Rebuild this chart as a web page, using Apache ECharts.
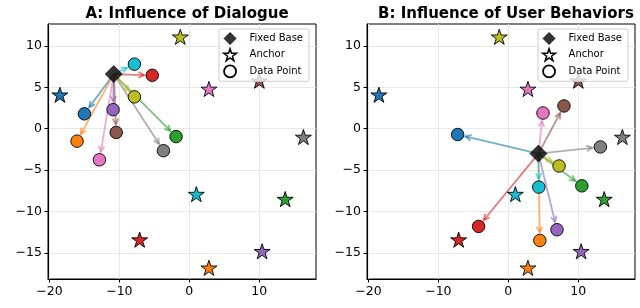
<!DOCTYPE html>
<html>
<head>
<meta charset="utf-8">
<script src="https://cdn.jsdelivr.net/npm/echarts@6/dist/echarts.min.js"></script>
<style>
  html, body { margin: 0; padding: 0; background: #fff; }
  #chart { width: 640px; height: 308px; }
</style>
</head>
<body>
<div id="chart"></div>
<script>
// tab10 colours, one per anchor / data point
var colors = ['#1f77b4', '#ff7f0e', '#2ca02c', '#d62728', '#9467bd',
              '#8c564b', '#e377c2', '#7f7f7f', '#bcbd22', '#17becf'];

// anchors (same in both panels)
var anchorX = [-18.5, 2.8, 13.7, -7.1, 10.4, 10.0, 2.8, 16.3, -1.3, 1.0];
var anchorY = [4.1, -16.8, -8.5, -13.4, -14.8, 5.8, 4.8, -1.0, 11.1, -7.9];

// panel A: dialogue
var baseA = [-10.8, 6.6];
var pointAX = [-15.0, -16.05, -1.9, -5.3, -10.9, -10.45, -12.85, -3.7, -7.85, -7.85];
var pointAY = [1.8, -1.5, -0.95, 6.45, 2.3, -0.45, -3.75, -2.65, 3.85, 7.8];

// panel B: user behaviors
var baseB = [4.3, -3.0];
var pointBX = [-7.25, 4.5, 10.5, -4.25, 6.95, 7.95, 4.95, 13.15, 7.25, 4.35];
var pointBY = [-0.7, -13.5, -6.9, -11.8, -12.2, 2.75, 1.9, -2.2, -4.5, -7.05];

var xTicks = [-20, -10, 0, 10];
var yTicks = [-15, -10, -5, 0, 5, 10];

var starPath = 'path://M50 0L61.2 34.5L97.6 34.5L68.2 55.9L79.4 90.5L50 69.1L20.6 90.5L31.8 55.9L2.4 34.5L38.8 34.5Z';
var diamondPath = 'path://M50 0L100 50L50 100L0 50Z';
var font = 'DejaVu Sans';

function fmt(v) {
    return String(v).replace('-', '\u2212');
}

// arrow from base to data point, stopped short of the marker, "->" head
function renderArrow(params, api) {
    var p0 = api.coord([api.value(0), api.value(1)]);
    var p1 = api.coord([api.value(2), api.value(3)]);
    var color = colors[api.value(4)];
    var dx = p1[0] - p0[0], dy = p1[1] - p0[1];
    var len = Math.sqrt(dx * dx + dy * dy);
    var ux = dx / len, uy = dy / len;
    var tip = [p1[0] - ux * 8, p1[1] - uy * 8];
    var head = 6.5, ang = 0.45;
    var bx = -ux, by = -uy;
    var c = Math.cos(ang), s = Math.sin(ang);
    var h1 = [tip[0] + head * (bx * c - by * s), tip[1] + head * (bx * s + by * c)];
    var h2 = [tip[0] + head * (bx * c + by * s), tip[1] + head * (-bx * s + by * c)];
    var st = { stroke: color, lineWidth: 1.8, fill: null, opacity: 0.62 };
    return {
        type: 'group',
        children: [
            { type: 'polyline', shape: { points: [p0, tip] }, style: st },
            { type: 'polyline', shape: { points: [h1, tip, h2] }, style: st }
        ]
    };
}

function makeAxes(idx) {
    var x = {
        type: 'value', gridIndex: idx, min: -20.2, max: 18.1,
        axisLine: { show: true, onZero: false, lineStyle: { color: '#000', width: 1 } },
        axisTick: { show: true, length: 3.5, customValues: xTicks, lineStyle: { color: '#000' } },
        axisLabel: { customValues: xTicks, formatter: fmt, color: '#000', fontSize: 12.5, fontFamily: font, margin: 6 },
        splitLine: { show: true, lineStyle: { color: '#e8e8e8', width: 1 } }
    };
    var y = {
        type: 'value', gridIndex: idx, min: -18.15, max: 12.65,
        axisLine: { show: true, onZero: false, lineStyle: { color: '#000', width: 1 } },
        axisTick: { show: true, length: 3.5, customValues: yTicks, lineStyle: { color: '#000' } },
        axisLabel: { customValues: yTicks, formatter: fmt, color: '#000', fontSize: 12.5, fontFamily: font, margin: 6 },
        splitLine: { show: true, lineStyle: { color: '#e8e8e8', width: 1 } }
    };
    return [x, y];
}

function panelSeries(idx, base, px, py) {
    var arrows = px.map(function (v, i) { return [base[0], base[1], px[i], py[i], i]; });
    var anchors = anchorX.map(function (v, i) {
        return { value: [anchorX[i], anchorY[i]], itemStyle: { color: colors[i] } };
    });
    var points = px.map(function (v, i) {
        return { value: [px[i], py[i]], itemStyle: { color: colors[i] } };
    });
    return [
        {
            type: 'custom', xAxisIndex: idx, yAxisIndex: idx, z: 2,
            renderItem: renderArrow, data: arrows, silent: true
        },
        {
            name: 'Anchor', type: 'scatter', xAxisIndex: idx, yAxisIndex: idx, z: 3,
            symbol: starPath, symbolSize: [16, 15.2],
            itemStyle: { borderColor: '#000', borderWidth: 0.9, opacity: 1 },
            data: anchors
        },
        {
            name: 'Data Point', type: 'scatter', xAxisIndex: idx, yAxisIndex: idx, z: 4,
            symbol: 'circle', symbolSize: 12.5,
            itemStyle: { borderColor: '#000', borderWidth: 0.9, opacity: 1 },
            data: points
        },
        {
            name: 'Fixed Base', type: 'scatter', xAxisIndex: idx, yAxisIndex: idx, z: 5,
            symbol: diamondPath, symbolSize: 17,
            itemStyle: { color: '#000', borderColor: '#000', borderWidth: 0.8 },
            data: [base]
        }
    ];
}

function makeLegend(left) {
    return {
        orient: 'vertical', left: left, top: 29,
        itemWidth: 29, itemHeight: 12, itemGap: 3,
        padding: [3, 6, 3, 4],
        borderColor: '#cccccc', borderWidth: 1, borderRadius: 2,
        backgroundColor: 'rgba(255,255,255,0.8)',
        selectedMode: false,
        textStyle: { fontSize: 10, fontFamily: font, color: '#000' },
        data: [
            { name: 'Fixed Base', icon: diamondPath, itemStyle: { color: '#000', borderColor: '#000', borderWidth: 1 } },
            { name: 'Anchor', icon: starPath, itemStyle: { color: '#fff', borderColor: '#000', borderWidth: 1.5 } },
            { name: 'Data Point', icon: 'circle', itemStyle: { color: '#fff', borderColor: '#000', borderWidth: 1.8 } }
        ]
    };
}

var axA = makeAxes(0), axB = makeAxes(1);
var chart = echarts.init(document.getElementById('chart'), null, { renderer: 'canvas' });
chart.setOption({
    animation: false,
    backgroundColor: '#fff',
    title: [
        { text: 'A: Influence of Dialogue', left: 182, top: 2, textAlign: 'center',
          textStyle: { fontSize: 15, fontWeight: 'bold', fontFamily: font, color: '#000' } },
        { text: 'B: Influence of User Behaviors', left: 501, top: 2, textAlign: 'center',
          textStyle: { fontSize: 15, fontWeight: 'bold', fontFamily: font, color: '#000' } }
    ],
    grid: [
        { left: 48, top: 24, width: 268, height: 255, show: true, borderColor: '#000', borderWidth: 1 },
        { left: 367, top: 24, width: 268, height: 255, show: true, borderColor: '#000', borderWidth: 1 }
    ],
    xAxis: [axA[0], axB[0]],
    yAxis: [axA[1], axB[1]],
    legend: [makeLegend(219), makeLegend(538)],
    series: panelSeries(0, baseA, pointAX, pointAY).concat(panelSeries(1, baseB, pointBX, pointBY))
});
</script>
</body>
</html>
